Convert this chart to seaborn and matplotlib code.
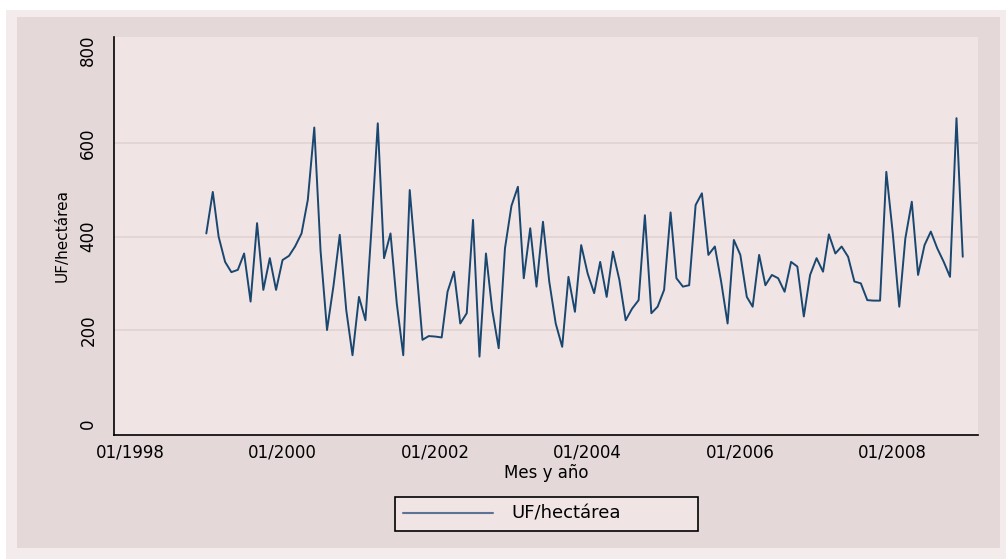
import matplotlib
matplotlib.use("Agg")
import matplotlib.pyplot as plt
import matplotlib.dates as mdates
from matplotlib.patches import Rectangle
import numpy as np
import pandas as pd
import seaborn as sns

# ---- data (monthly, 01/1999 .. 12/2008) ----
start_month = "1999-01-01"
uf_hectarea = [
    407, 496, 400, 346, 324, 329, 364, 261, 429, 286, 354, 286,   # 1999
    350, 359, 379, 407, 479, 634, 370, 200, 295, 404, 243, 146,   # 2000
    271, 221, 411, 643, 354, 407, 257, 146, 500, 343, 179, 187,   # 2001
    186, 184, 282, 325, 214, 236, 436, 143, 364, 243, 161, 375,   # 2002
    466, 507, 311, 418, 293, 432, 304, 214, 164, 314, 239, 382,   # 2003
    321, 279, 346, 271, 368, 307, 221, 246, 264, 446, 236, 250,   # 2004
    286, 452, 311, 293, 296, 468, 493, 361, 379, 304, 214, 393,   # 2005
    361, 271, 250, 361, 296, 318, 311, 282, 346, 336, 229, 318,   # 2006
    354, 325, 405, 364, 379, 357, 304, 300, 264, 263, 263, 539,   # 2007
    407, 250, 396, 475, 318, 382, 411, 375, 346, 314, 654, 357,   # 2008
]
series_label = "UF/hectárea"
x_tick_years = [1998, 2000, 2002, 2004, 2006, 2008]
y_ticks = [0, 200, 400, 600, 800]
x_label = "Mes y año"
y_label = "UF/hectárea"

dates = pd.date_range(start_month, periods=len(uf_hectarea), freq="MS")
df = pd.DataFrame({"fecha": dates, "valor": uf_hectarea})

# ---- style ----
sns.set_theme(style="white")
plt.rcParams["font.family"] = ["DejaVu Sans"]
plt.rcParams["text.color"] = "black"

W, H = 1006, 559
fig = plt.figure(figsize=(W / 100, H / 100), dpi=100, facecolor="white")

def fig_rect(x0, y0, x1, y1, color):
    fig.patches.append(Rectangle((x0 / W, 1 - y1 / H), (x1 - x0) / W, (y1 - y0) / H,
                                 transform=fig.transFigure, facecolor=color,
                                 edgecolor="none", zorder=-10))

fig_rect(6, 10, 1006, 559, "#F4ECEC")   # light outer band
fig_rect(17, 17, 1000, 548, "#E4D8D9")  # graph region

px0, py0, px1, py1 = 114, 37, 978, 435
ax = fig.add_axes([px0 / W, 1 - py1 / H, (px1 - px0) / W, (py1 - py0) / H])
ax.set_facecolor("#F1E4E4")

sns.lineplot(data=df, x="fecha", y="valor", ax=ax, color="#1A476F",
             linewidth=1.4, label=series_label)

ax.set_xlim(pd.Timestamp("1997-10-16"), pd.Timestamp("2009-02-12"))
ax.set_ylim(-25, 828)

ax.set_xticks([pd.Timestamp(f"{y}-01-01") for y in x_tick_years])
ax.xaxis.set_major_formatter(mdates.DateFormatter("%m/%Y"))
ax.set_yticks(y_ticks)
ax.set_yticklabels([str(v) for v in y_ticks], rotation=90, va="center")

for v in y_ticks[1:-1]:
    ax.axhline(v, color="#E2D3D3", linewidth=1.2, zorder=0)

for s in ["top", "right"]:
    ax.spines[s].set_visible(False)
for s in ["left", "bottom"]:
    ax.spines[s].set_color("black")
    ax.spines[s].set_linewidth(1.2)

ax.tick_params(axis="both", which="major", direction="out", length=5, width=1,
               color="black", labelsize=12, labelcolor="black")
ax.tick_params(axis="x", pad=1)
ax.tick_params(axis="y", pad=7)

ax.set_xlabel(x_label, fontsize=12, color="black", labelpad=2)
ax.set_ylabel(y_label, fontsize=11, color="black", labelpad=7)

# legend box spanning 395..698 px horizontally, centred at y~514 px
lx0, lx1, ly0, ly1 = 395, 698, 496, 532
bbox = ((lx0 - px0) / (px1 - px0), -(ly1 - py1) / (py1 - py0),
        (lx1 - lx0) / (px1 - px0), (ly1 - ly0) / (py1 - py0))
leg = ax.legend(loc="center", bbox_to_anchor=bbox, mode="expand",
                frameon=True, fancybox=False, fontsize=13, handlelength=5.0,
                handletextpad=1.0, borderpad=0.45, borderaxespad=0)
frame = leg.get_frame()
frame.set_edgecolor("black")
frame.set_linewidth(1.2)
frame.set_facecolor("#F1E4E4")
frame.set_alpha(1)
for t in leg.get_texts():
    t.set_color("black")
for line in leg.get_lines():
    line.set_color("#5A7396")
    line.set_linewidth(1.5)

fig.savefig("out.png", dpi=100, facecolor=fig.get_facecolor())
